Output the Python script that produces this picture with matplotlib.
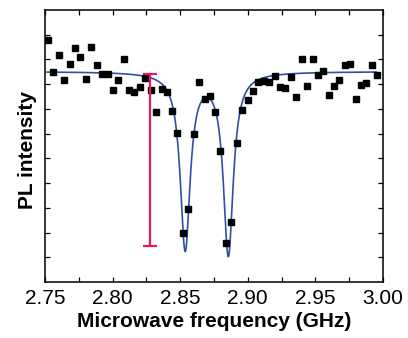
import numpy as np
import matplotlib
matplotlib.use("Agg")
import matplotlib.pyplot as plt
from matplotlib.ticker import MultipleLocator

plt.rcParams['font.family'] = ['Liberation Sans', 'DejaVu Sans']

# Measured data (frequency in GHz, PL intensity in arbitrary units)
freq = [2.7524, 2.7561, 2.7606, 2.7643, 2.7683, 2.7722, 2.7761, 2.7803, 2.7842, 2.7882,
        2.7922, 2.7964, 2.8001, 2.8040, 2.8082, 2.8121, 2.8161, 2.8200, 2.8240, 2.8282,
        2.8321, 2.8363, 2.8400, 2.8439, 2.8480, 2.8519, 2.8561, 2.8600, 2.8639, 2.8681,
        2.8720, 2.8760, 2.8798, 2.8839, 2.8876, 2.8919, 2.8959, 2.8999, 2.9038, 2.9078,
        2.9118, 2.9157, 2.9199, 2.9238, 2.9277, 2.9317, 2.9359, 2.9399, 2.9438, 2.9480,
        2.9517, 2.9559, 2.9598, 2.9638, 2.9677, 2.9717, 2.9758, 2.9798, 2.9837, 2.9877,
        2.9916, 2.9956]
intensity = [9.775, 8.505, 9.192, 8.157, 8.816, 9.475, 9.112, 8.210, 9.516, 8.764,
             8.412, 8.400, 7.765, 8.181, 9.031, 7.753, 7.684, 7.898, 8.238, 7.765,
             6.863, 7.817, 7.672, 6.928, 6.014, 1.970, 2.972, 5.994, 8.088, 7.401,
             7.510, 6.887, 5.310, 1.597, 2.427, 5.609, 6.956, 7.360, 7.724, 8.100,
             8.117, 8.088, 8.331, 7.874, 7.846, 8.290, 7.470, 9.006, 7.939, 9.006,
             8.383, 8.533, 7.575, 7.927, 8.181, 8.764, 8.804, 7.389, 7.955, 8.060,
             8.776, 8.359]

# Lorentzian fit parameters
fit_baseline = 8.51
fit_centers = [2.8537, 2.8856]
fit_depths = [7.145, 7.35]
fit_hwhm = 0.00444
fit_range = [2.7515, 2.995]

# Contrast bar
bar_x = 2.8277
bar_top = 8.424
bar_bottom = 1.456

xticks = [2.75, 2.80, 2.85, 2.90, 2.95, 3.00]
xticklabels = ["2.75", "2.80", "2.85", "2.90", "2.95", "3.00"]

fig = plt.figure(figsize=(4.08, 3.38), dpi=100)
ax = fig.add_axes([45/408, 1-282/338, 338/408, 272/338])

ff = np.linspace(fit_range[0], fit_range[1], 2000)
fit = np.full_like(ff, fit_baseline)
for c, d in zip(fit_centers, fit_depths):
    fit -= d / (1 + ((ff - c) / fit_hwhm) ** 2)

ax.plot(ff, fit, color='#3050a3', lw=1.2, zorder=2)
ax.plot(freq, intensity, 's', color='black', ms=3.8, zorder=3)
ax.errorbar([bar_x], [(bar_top + bar_bottom) / 2], yerr=[(bar_top - bar_bottom) / 2],
            fmt='none', ecolor='#e8195a', elinewidth=1.6, capsize=5, capthick=1.6, zorder=4)

ax.set_xlim(2.75, 3.00)
ax.set_ylim(0, 11)
ax.set_xticks(xticks)
ax.set_xticklabels(xticklabels)
ax.xaxis.set_minor_locator(MultipleLocator(0.025))
ax.set_yticks(range(1, 11))
ax.set_yticklabels([])
ax.tick_params(axis='both', which='both', direction='in', top=True, right=True,
               length=3.5, width=0.9)
ax.tick_params(axis='x', labelsize=15, pad=5)
for s in ax.spines.values():
    s.set_linewidth(1.1)

ax.set_xlabel("Microwave frequency (GHz)", fontsize=15, fontweight='bold', labelpad=3)
ax.set_ylabel("PL intensity", fontsize=15, fontweight='bold')
ax.yaxis.set_label_coords(-0.053, 0.485)
ax.yaxis.label.set_va('center')

fig.savefig("out.png", dpi=100)
